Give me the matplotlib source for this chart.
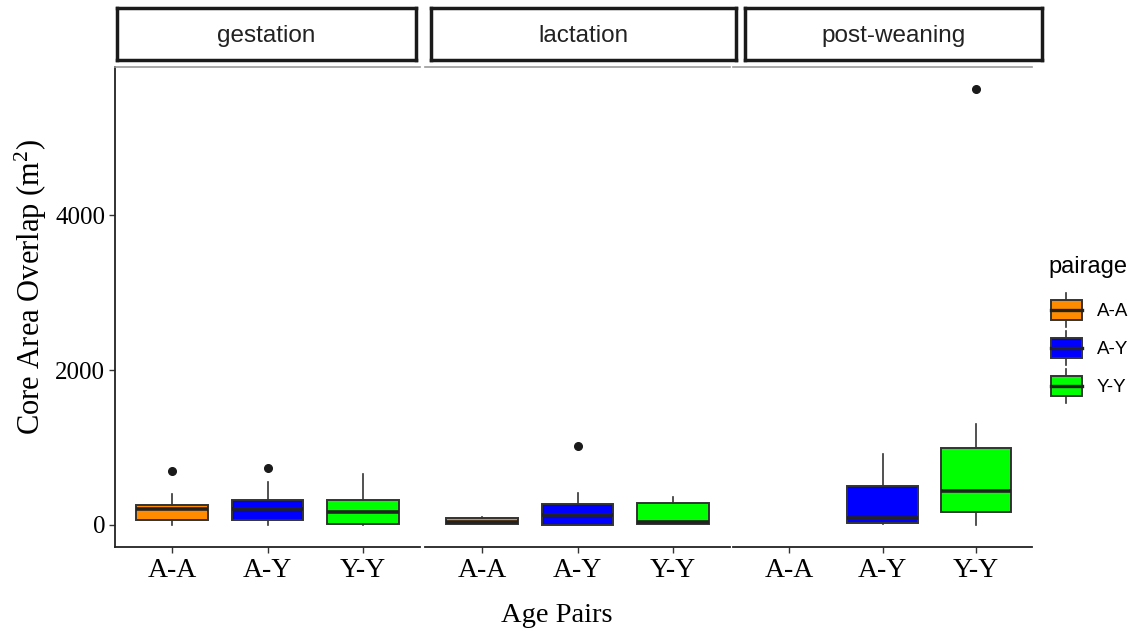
import numpy as np
import matplotlib
matplotlib.use('Agg')
import matplotlib.pyplot as plt
from matplotlib.patches import Rectangle
from matplotlib.lines import Line2D
from matplotlib.legend_handler import HandlerBase

matplotlib.rcParams['mathtext.fontset'] = 'custom'
matplotlib.rcParams['mathtext.rm'] = 'Liberation Serif'
matplotlib.rcParams['mathtext.default'] = 'regular'

# data (core area overlap, m^2)
stages = ['gestation', 'lactation', 'post-weaning']
pairs = ['A-A', 'A-Y', 'Y-Y']
colors = ['#FF8C00', '#0000FF', '#00FF00']

whislo = [[0, 0, 0], [13, 4, 13], [None, 9, 0]]
q1 = [[65, 65, 13], [13, 4, 13], [None, 30, 172]]
med = [[206, 206, 168], [35, 129, 34], [None, 94, 443]]
q3 = [[258, 326, 326], [94, 267, 288], [None, 499, 989]]
whishi = [[400, 559, 658], [107, 413, 366], [None, 912, 1299]]
fliers = [[[697], [740], []], [[], [1023], []], [[], [], [5622]]]

serif = 'Liberation Serif'
sans = 'Liberation Sans'
edge = '#333333'

fig = plt.figure(figsize=(11.33, 6.32), dpi=100)
W, H = 1133, 632
panels = [(115, 420), (425, 730), (733, 1032)]
strips = [(117, 416), (431, 736), (745, 1042)]
y_top, y_bot = 67, 547

axes = []
for k, st in enumerate(stages):
    x0, x1 = panels[k]
    ax = fig.add_axes([x0 / W, 1 - y_bot / H, (x1 - x0) / W, (y_bot - y_top) / H])
    axes.append(ax)
    stats, pos, cols = [], [], []
    for j, p in enumerate(pairs):
        if med[k][j] is None:
            continue
        stats.append(dict(med=med[k][j], q1=q1[k][j], q3=q3[k][j],
                          whislo=whislo[k][j], whishi=whishi[k][j],
                          fliers=fliers[k][j]))
        pos.append(j + 1)
        cols.append(colors[j])
    bp = ax.bxp(stats, positions=pos, widths=0.75, patch_artist=True,
                boxprops=dict(edgecolor=edge, linewidth=1.4),
                medianprops=dict(color='#222222', linewidth=2.6),
                whiskerprops=dict(color=edge, linewidth=1.2),
                capprops=dict(linewidth=0),
                flierprops=dict(marker='o', markerfacecolor='#1a1a1a',
                                markeredgecolor='#1a1a1a', markersize=5.5))
    for patch, c in zip(bp['boxes'], cols):
        patch.set_facecolor(c)
    ax.set_xlim(0.4, 3.6)
    ax.set_ylim(-284, 5910)
    ax.set_xticks([1, 2, 3])
    ax.set_xticklabels(pairs, fontfamily=serif, fontsize=20)
    ax.tick_params(axis='x', length=4, width=1, color='#333333', pad=4)
    ax.set_yticks([0, 2000, 4000])
    ax.spines['right'].set_visible(False)
    ax.spines['top'].set_color('#999999')
    ax.spines['top'].set_linewidth(1.2)
    ax.spines['bottom'].set_color('#222222')
    ax.spines['bottom'].set_linewidth(1.3)
    if k == 0:
        ax.set_yticklabels(['0', '2000', '4000'], fontfamily=serif, fontsize=18)
        ax.tick_params(axis='y', length=4, width=1, color='#333333', pad=3)
        ax.spines['left'].set_color('#222222')
        ax.spines['left'].set_linewidth(1.3)
    else:
        ax.spines['left'].set_visible(False)
        ax.tick_params(axis='y', left=False, labelleft=False)

    # facet strip
    sx0, sx1 = strips[k]
    sax = fig.add_axes([sx0 / W, 1 - 60 / H, (sx1 - sx0) / W, 52 / H])
    sax.set_xticks([])
    sax.set_yticks([])
    for sp in sax.spines.values():
        sp.set_linewidth(2.5)
        sp.set_color('#1a1a1a')
    sax.text(0.5, 0.47, st, ha='center', va='center', fontfamily=sans,
             fontsize=17.5, color='#222222', transform=sax.transAxes)

fig.text(31 / W, 1 - 287 / H, r'Core Area Overlap (m$^{2}$)', rotation=90,
         ha='center', va='center', fontfamily=serif, fontsize=22)
fig.text(557 / W, 1 - 616 / H, 'Age Pairs', ha='center', va='center',
         fontfamily=serif, fontsize=20.5)


class BoxKey(HandlerBase):
    def create_artists(self, legend, orig_handle, xdescent, ydescent,
                       width, height, fontsize, trans):
        x0, y0 = -xdescent, -ydescent
        bw = width * 0.95
        bx = x0 + (width - bw) / 2
        lo, hi = y0 + 0.21 * height, y0 + 0.79 * height
        cx = x0 + width / 2
        arts = [
            Line2D([cx, cx], [y0, lo], color=edge, lw=1.2, transform=trans),
            Line2D([cx, cx], [hi, y0 + height], color=edge, lw=1.2, transform=trans),
            Rectangle((bx, lo), bw, hi - lo, facecolor=orig_handle.get_facecolor(),
                      edgecolor=edge, lw=1.4, transform=trans),
            Line2D([bx, bx + bw], [(lo + hi) / 2] * 2, color='#222222', lw=2.4,
                   transform=trans),
        ]
        return arts


fig.text(1048 / W, 1 - 267 / H, 'pairage', ha='left', va='center',
         fontfamily=sans, fontsize=17)
handles = [Rectangle((0, 0), 1, 1, facecolor=c) for c in colors]
leg = fig.legend(handles, pairs, handler_map={Rectangle: BoxKey()},
                 loc='center left', bbox_to_anchor=(1046 / W, 1 - 348 / H),
                 frameon=False,
                 prop=dict(family=sans, size=13.5),
                 handlelength=1.75, handleheight=2.4, labelspacing=0.23,
                 handletextpad=0.75, borderaxespad=0, borderpad=0.2)

fig.savefig('out.png', dpi=100, facecolor='white')
